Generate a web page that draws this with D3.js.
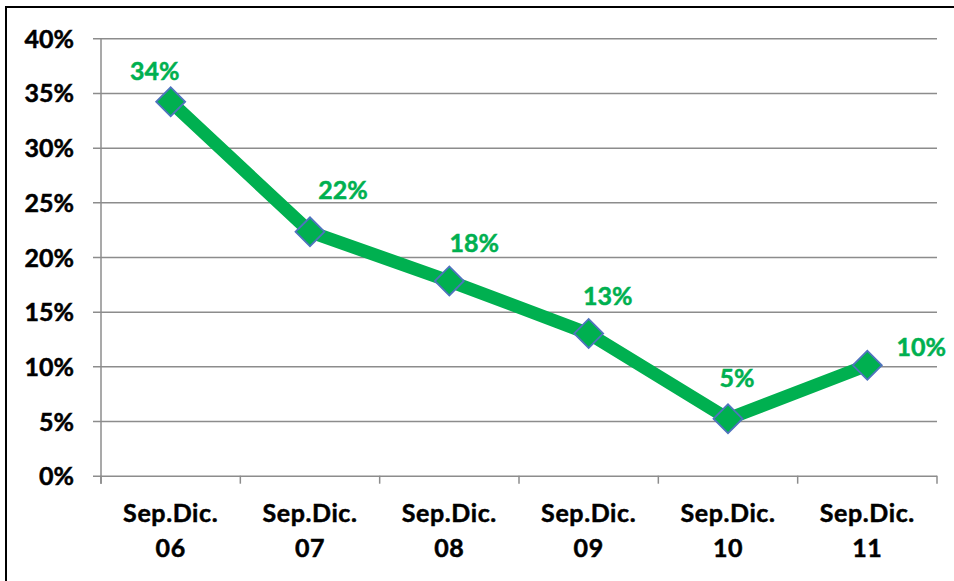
<!DOCTYPE html>
<html>
<head>
<meta charset="utf-8">
<script src="https://cdn.jsdelivr.net/npm/d3@7"></script>
<style>
  html, body { margin: 0; padding: 0; background: #fff; }
  svg { display: block; }
</style>
</head>
<body>
<svg id="chart" width="954" height="581"></svg>
<script>
// Period categories (two-line labels)
const periods = ["Sep.Dic.|06", "Sep.Dic.|07", "Sep.Dic.|08", "Sep.Dic.|09", "Sep.Dic.|10", "Sep.Dic.|11"];
// Share per period
const shares = [0.342, 0.223, 0.178, 0.130, 0.052, 0.101];
// Y axis ticks
const yTicks = [0, 0.05, 0.10, 0.15, 0.20, 0.25, 0.30, 0.35, 0.40];

const svg = d3.select("#chart");
const W = 954, H = 581;
const plot = { left: 101, right: 937, top: 38.3, bottom: 475.7 };

const GREEN = "#00B050";
const GRID = "#8c8c8c";
const FONT = "Lato, 'Open Sans', sans-serif";

svg.append("rect").attr("width", W).attr("height", H).attr("fill", "#fff");

// outer frame
svg.append("rect")
  .attr("x", 6).attr("y", 7)
  .attr("width", W + 20).attr("height", H + 20)
  .attr("fill", "none").attr("stroke", "#000").attr("stroke-width", 2);

const x = d3.scaleBand().domain(periods).range([plot.left, plot.right]).paddingInner(0).paddingOuter(0);
const y = d3.scaleLinear().domain([0, 0.40]).range([plot.bottom, plot.top]);

// horizontal gridlines + y labels
const yAxis = d3.axisLeft(y)
  .tickValues(yTicks)
  .tickFormat(d3.format(".0%"))
  .tickSize(-(plot.right - plot.left + 8))
  .tickPadding(24);

const gy = svg.append("g")
  .attr("transform", `translate(${plot.left - 8},0)`)
  .call(yAxis);
gy.select(".domain").remove();
gy.selectAll(".tick line")
  .attr("stroke", GRID).attr("stroke-width", 1.5);
gy.selectAll(".tick text")
  .attr("x", -19)
  .attr("fill", "#000")
  .attr("stroke", "#000")
  .attr("stroke-width", 0.5)
  .attr("font-family", FONT)
  .attr("font-weight", "bold")
  .attr("font-size", 25)
  .attr("dy", "0.36em");

// vertical axis line
svg.append("line")
  .attr("x1", plot.left).attr("x2", plot.left)
  .attr("y1", plot.top).attr("y2", plot.bottom + 8)
  .attr("stroke", GRID).attr("stroke-width", 1.5);

// x axis ticks at category boundaries
const boundaries = periods.map(p => x(p)).concat([plot.right]);
svg.append("g").selectAll("line")
  .data(boundaries)
  .join("line")
  .attr("x1", d => d).attr("x2", d => d)
  .attr("y1", plot.bottom).attr("y2", plot.bottom + 8)
  .attr("stroke", GRID).attr("stroke-width", 1.5);

// category labels
const cx = d => x(d) + x.bandwidth() / 2;
const lab = svg.append("g").selectAll("text")
  .data(periods)
  .join("text")
  .attr("x", cx)
  .attr("y", 522)
  .attr("text-anchor", "middle")
  .attr("font-family", FONT)
  .attr("font-weight", "bold")
  .attr("font-size", 25)
  .attr("letter-spacing", 0.6)
  .attr("stroke", "#000")
  .attr("stroke-width", 0.5)
  .attr("fill", "#000");
lab.each(function(d) {
  const parts = d.split("|");
  const t = d3.select(this);
  t.append("tspan").attr("x", cx(d)).attr("dy", 0).text(parts[0]);
  t.append("tspan").attr("x", cx(d)).attr("dy", 35).text(parts[1]);
});

// the line
const pts = periods.map((p, i) => [cx(p), y(shares[i])]);
svg.append("path")
  .datum(pts)
  .attr("d", d3.line())
  .attr("fill", "none")
  .attr("stroke", GREEN)
  .attr("stroke-width", 13)
  .attr("stroke-linejoin", "miter");

// diamond markers
const diamond = d3.symbol().type(d3.symbolSquare).size(420);
svg.append("g").selectAll("path")
  .data(pts)
  .join("path")
  .attr("d", diamond)
  .attr("transform", d => `translate(${d[0]},${d[1]}) rotate(45)`)
  .attr("fill", GREEN)
  .attr("stroke", "#4F73BE")
  .attr("stroke-width", 1.8);

// value labels
const labelOffsets = [[-16, -22], [33, -33], [25, -29], [19, -29], [9, -32], [54, -9]];
svg.append("g").selectAll("text")
  .data(shares)
  .join("text")
  .attr("x", (d, i) => pts[i][0] + labelOffsets[i][0])
  .attr("y", (d, i) => pts[i][1] + labelOffsets[i][1])
  .attr("text-anchor", "middle")
  .attr("font-family", FONT)
  .attr("font-weight", "bold")
  .attr("font-size", 25)
  .attr("stroke", GREEN)
  .attr("stroke-width", 0.5)
  .attr("fill", GREEN)
  .text(d => d3.format(".0%")(d));
</script>
</body>
</html>
